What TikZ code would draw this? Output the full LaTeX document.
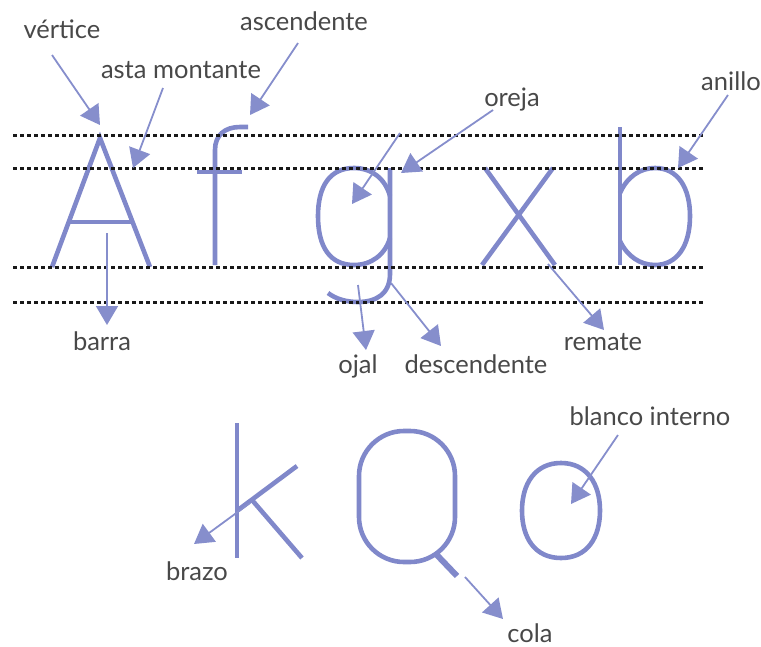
\documentclass[tikz,border=0pt]{standalone}
\usepackage{fontspec}
\setmainfont{Lato}
\usetikzlibrary{arrows.meta}
\definecolor{letc}{RGB}{128,136,202}
\definecolor{arrc}{RGB}{134,142,204}
\definecolor{txtc}{RGB}{72,72,72}
\tikzset{
  glyph/.style={draw=letc, line width=4.6pt, line cap=butt, line join=miter},
  guide/.style={draw=black!90, line width=3pt, dash pattern=on 4.2pt off 2.8pt},
  pointer/.style={draw=arrc, line width=1.8pt, -{Triangle[length=19pt,width=22pt]}},
  lbl/.style={text=txtc, font=\fontsize{25.5}{27}\selectfont, inner sep=0pt, anchor=base},
}
\begin{document}
\begin{tikzpicture}[x=1pt,y=-1pt]
\useasboundingbox (0,0) rectangle (761,646);
% ---- letters, top row ----
% A
\draw[glyph] (52,267) -- (100,138) -- (150,267);
\draw[glyph] (70,222) -- (132,222);
% f
\draw[glyph] (215,265) -- (215,150) .. controls (215,135) and (225,127) .. (240,127) -- (248,127);
\draw[glyph] (197,172) -- (242,172);
% g
\draw[glyph] (390,196) .. controls (385,178) and (371,168) .. (354,168) .. controls (330,168) and (318,186) .. (318,216) .. controls (318,247) and (330,265) .. (354,265) .. controls (371,265) and (385,255) .. (390,238);
\draw[glyph] (390,168) -- (390,274) .. controls (390,294) and (376,302) .. (358,302) .. controls (346,302) and (336,299) .. (328,293);
% x
\draw[glyph] (485,168) -- (555,265);
\draw[glyph] (553,168) -- (482,265);
% b
\draw[glyph] (620,127) -- (620,265);
\draw[glyph] (620,193) .. controls (627,177) and (640,168) .. (655,168) .. controls (678,168) and (690,188) .. (690,216) .. controls (690,246) and (677,265) .. (655,265) .. controls (640,265) and (627,256) .. (620,241);
% guide lines
\draw[guide] (13,135) -- (705,135);
\draw[guide] (13,168) -- (705,168);
\draw[guide] (13,267) -- (705,267);
\draw[guide] (13,302) -- (705,302);
% ---- letters, bottom row ----
% k
\draw[glyph] (237,423) -- (237,558);
\draw[glyph] (297,466) -- (238,510);
\draw[glyph] (252,500) -- (302,558);
% Q
\draw[glyph, rounded corners=45pt] (359,431) rectangle (455,562);
\draw[glyph, line width=6pt] (435,553) -- (457,576);
% o
\draw[glyph] (561,463) .. controls (587,463) and (600,484) .. (600,510.5) .. controls (600,538) and (587,558) .. (561,558) .. controls (535,558) and (522,538) .. (522,510.5) .. controls (522,484) and (535,463) .. cycle;
% ---- labels ----
\node[lbl] (vertice) at (62,38) {vértice};
\node[lbl] (asta) at (181,78) {asta montante};
\node[lbl] (asc) at (304,30) {ascendente};
\node[lbl] (oreja) at (512,106) {oreja};
\node[lbl] (anillo) at (731,90) {anillo};
\node[lbl] (barra) at (102,350) {barra};
\node[lbl] (ojal) at (358,373) {ojal};
\node[lbl] (desc) at (476,373) {descendente};
\node[lbl] (remate) at (603,350) {remate};
\node[lbl] (brazo) at (197,580) {brazo};
\node[lbl] (cola) at (530,642) {cola};
\node[lbl] (blanco) at (650,425) {blanco interno};
% ---- arrow endpoints ----
\coordinate (s1) at (52,55);   \coordinate (t1) at (100,125);
\coordinate (s2) at (163,88);  \coordinate (t2) at (133,168);
\coordinate (s3) at (298,43);  \coordinate (t3) at (250,115);
\coordinate (s4) at (493,110); \coordinate (t4) at (401,173);
\coordinate (s5) at (728,95);  \coordinate (t5) at (678,168);
\coordinate (s6) at (400,133); \coordinate (t6) at (352,204);
\coordinate (s7) at (107,233); \coordinate (t7) at (107,325);
\coordinate (s8) at (358,285); \coordinate (t8) at (366,350);
\coordinate (s9) at (391,283); \coordinate (t9) at (441,346);
\coordinate (s10) at (548,264); \coordinate (t10) at (604,330);
\coordinate (s11) at (250,503); \coordinate (t11) at (194,544);
\coordinate (s12) at (465,577); \coordinate (t12) at (503,619);
\coordinate (s13) at (618,435); \coordinate (t13) at (571,504);
% ---- arrows ----
\draw[pointer] (s1) -- (t1);
\draw[pointer] (s2) -- (t2);
\draw[pointer] (s3) -- (t3);
\draw[pointer] (s4) -- (t4);
\draw[pointer] (s5) -- (t5);
\draw[pointer] (s6) -- (t6);
\draw[pointer] (s7) -- (t7);
\draw[pointer] (s8) -- (t8);
\draw[pointer] (s9) -- (t9);
\draw[pointer] (s10) -- (t10);
\draw[pointer] (s11) -- (t11);
\draw[pointer] (s12) -- (t12);
\draw[pointer] (s13) -- (t13);
\end{tikzpicture}
\end{document}
